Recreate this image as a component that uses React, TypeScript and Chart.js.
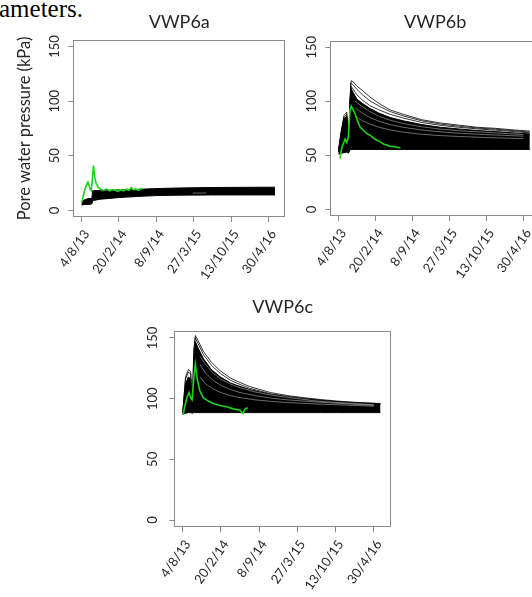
import React, { useEffect, useRef } from "react";
import { Chart, registerables } from "chart.js";

Chart.register(...registerables);

// ---------- axes ----------
const tickDays = [0, 200, 400, 600, 800, 1000];
const tickLabels = ["4/8/13", "20/2/14", "8/9/14", "27/3/15", "13/10/15", "30/4/16"];
const yTickValues = [0, 50, 100, 150];
const yAxisTitle = "Pore water pressure (kPa)";

// ---------- VWP6a ----------
const daysA = [0, 20, 40, 55, 60, 100, 150, 200, 300, 400, 525, 700, 900, 1035];
const aUpper = [8, 10, 11, 11, 18, 18.3, 18.5, 18.8, 19.3, 20, 20.6, 21, 21.2, 21.3];
const aLower = [5, 5.5, 5.5, 6, 9, 10.3, 11, 11.8, 12.8, 13.6, 14, 14.2, 14.2, 14.2];
const aStreakDays = [595, 667];
const aStreak = [15.9, 15.9];
const greenADays = [3, 10, 16, 25, 34, 40, 47, 52, 57, 64, 70, 78, 90, 105, 120, 135, 150, 165, 180, 195, 210, 225, 240, 255, 266, 275, 290, 305, 315, 325];
const greenAVals = [7.6, 14, 18, 23, 26, 23, 19, 18, 27, 41, 31, 25, 21, 19, 18.5, 19.5, 18, 19, 18.5, 17.5, 19, 18, 19.5, 18.5, 21, 19, 19.5, 18.5, 20, 19.5];

// ---------- VWP6b ----------
const daysB = [0, 15, 30, 45, 55, 62, 68, 80, 100, 130, 170, 220, 280, 350, 450, 550, 650, 750, 850, 950, 1035];
const b1 = [53, 72, 87, 90, 56, 100, 119, 118, 114, 110, 104, 98, 92, 88, 83, 80, 78, 76, 75, 73.5, 72.5];
const b2 = [53, 70, 85, 88, 55, 99, 117, 115, 111, 106, 100.5, 95.5, 90.5, 86.5, 82, 79, 77, 75.3, 74.2, 72.8, 71.5];
const b3 = [54, 68, 82, 85, 54, 97, 114, 111, 106, 101, 96, 92, 88, 84.5, 80.5, 77.8, 76, 74.5, 73.3, 72, 70.8];
const bTop = [55, 72, 84, 86, 53, 95, 112, 108, 102, 98, 93.5, 89, 85, 82, 78.5, 76, 74.5, 73, 72, 70.8, 69.8];
const bLow = [51, 52, 52.5, 53, 52, 55, 55.5, 55.5, 55.5, 55.5, 55.5, 55.5, 55.5, 55.5, 55.5, 55.5, 55.5, 55.5, 55.5, 55.5, 55.5];
const bStreakDays = [90, 130, 170, 220, 280, 350, 450, 550, 650, 800, 1000];
const bStreak1 = [100, 95, 90.5, 86, 82.5, 79.5, 76.5, 74.3, 72.8, 71.3, 69.3];
const bStreak2 = [94, 89, 85, 81.5, 78.5, 76, 73.5, 71.8, 70.5, 69.2, 67.8];
const bStreak3 = [86, 82, 79, 76, 73.5, 71.5, 69.5, 68.3, 67.5, 66.5, 65.5];
const greenBDays = [9, 18, 27, 36, 45, 54, 60, 63, 69, 80, 91, 105, 118, 136, 155, 172, 190, 208, 226, 244, 262, 280, 300, 317, 335];
const greenBVals = [47, 57, 61, 65, 62, 67, 85, 92, 95.5, 92, 88, 81, 76, 73, 70, 68.5, 66, 64, 62.5, 60.5, 59.5, 58.5, 58, 57.5, 57];

// ---------- VWP6c ----------
const daysC = [0, 15, 30, 42, 50, 58, 66, 80, 108, 150, 196, 250, 283, 350, 460, 550, 635, 720, 810, 900, 1035];
const c1 = [88, 118, 124, 122, 89, 140, 152, 148, 139, 130, 123, 117, 114.5, 110, 105, 102.5, 100.8, 99.3, 98, 97, 96];
const c2 = [88, 116, 122, 120, 89, 138, 150, 145.5, 136.5, 127.5, 120.8, 115.2, 112.8, 108.6, 104, 101.8, 100.2, 98.8, 97.6, 96.7, 95.8];
const cTop = [88, 112, 118, 116, 89, 133, 147, 142, 133, 124, 118, 113, 111, 107.5, 103.5, 101.3, 99.8, 98.5, 97.4, 96.5, 95.5];
const cLow = [87, 88, 88.5, 88.5, 88, 88.5, 88.5, 88.5, 88.5, 88.5, 88.5, 88.5, 88.5, 88.5, 88.5, 88.5, 88.5, 88.5, 88.5, 88.5, 88.5];
const cStreakDays = [90, 120, 160, 200, 250, 300, 380, 460, 550, 700, 850, 1000];
const cStreak1 = [135, 128, 121, 116, 112, 109, 105.5, 103, 101, 98, 96.4, 95];
const cStreak2 = [128, 121, 115, 111, 107.5, 105, 102.5, 100.5, 99, 97.2, 95.8, 94.6];
const cStreak3 = [118, 112, 108, 105, 102.5, 100.8, 99, 97.8, 96.8, 95.6, 94.7, 93.8];
const greenCDays = [3, 11, 24, 33, 42, 49, 59, 66, 76, 90, 108, 134, 160, 195, 230, 265, 300, 315, 327, 340];
const greenCVals = [87, 94, 102, 105, 100.5, 99, 118.7, 128.4, 116, 106.3, 100.8, 98, 96, 94.4, 93.4, 91.6, 90.5, 87.8, 91.5, 92.5];

// ---------- style ----------
const GREEN = "#1ed21e";
const AXIS_GRAY = "#8a8a8a";
const TEXT = "#262626";
const FONT = "Lato";

function pts(xs: number[], ys: number[]) {
  return ys.map((y, i) => ({ x: xs[i], y }));
}

interface PanelSpec {
  title: string;
  left: number;
  top: number;
  width: number;
  height: number;
  padTop: number;
  padRight: number;
  titleGap: number;
  yAxisW: number;
  xAxisH: number;
  yTickPad: number;
  yTitle: boolean;
  days: number[];
  lines: number[][];
  solidTop: number[];
  solidLow: number[];
  streakDays: number[];
  streaks: number[][];
  greenDays: number[];
  greenVals: number[];
}

const panels: PanelSpec[] = [
  {
    title: "VWP6a", left: 0, top: 0, width: 290, height: 287,
    padTop: 10.9, padRight: 4.7, titleGap: 7.5, yAxisW: 73.3, xAxisH: 70, yTickPad: 2, yTitle: true,
    days: daysA, lines: [], solidTop: aUpper, solidLow: aLower,
    streakDays: aStreakDays, streaks: [aStreak],
    greenDays: greenADays, greenVals: greenAVals,
  },
  {
    title: "VWP6b", left: 262, top: 0, width: 290, height: 287,
    padTop: 10.9, padRight: 12, titleGap: 8.2, yAxisW: 68.3, xAxisH: 71, yTickPad: 2, yTitle: false,
    days: daysB, lines: [b1, b2, b3], solidTop: bTop, solidLow: bLow,
    streakDays: bStreakDays, streaks: [bStreak1, bStreak2, bStreak3],
    greenDays: greenBDays, greenVals: greenBVals,
  },
  {
    title: "VWP6c", left: 140, top: 280, width: 260, height: 317,
    padTop: 16.7, padRight: 9, titleGap: 12.4, yAxisW: 34.3, xAxisH: 69.7, yTickPad: 5, yTitle: false,
    days: daysC, lines: [c1, c2], solidTop: cTop, solidLow: cLow,
    streakDays: cStreakDays, streaks: [cStreak1, cStreak2, cStreak3],
    greenDays: greenCDays, greenVals: greenCVals,
  },
];

const boxPlugin = {
  id: "rbox",
  afterDatasetsDraw(chart: any) {
    const { ctx, chartArea: a } = chart;
    const l = Math.round(a.left) + 0.5;
    const t = Math.round(a.top) + 0.5;
    const r = Math.round(a.right) - 0.5;
    const b = Math.round(a.bottom) - 0.5;
    ctx.save();
    ctx.strokeStyle = AXIS_GRAY;
    ctx.lineWidth = 1;
    ctx.strokeRect(l, t, r - l, b - t);
    ctx.restore();
  },
};

function Panel({ spec }: { spec: PanelSpec }) {
  const ref = useRef<HTMLCanvasElement>(null);
  useEffect(() => {
    const datasets: any[] = [];
    datasets.push({
      data: pts(spec.greenDays, spec.greenVals),
      borderColor: GREEN, borderWidth: 1.6, pointRadius: 0, fill: false, tension: 0,
    });
    spec.streaks.forEach((s) =>
      datasets.push({
        data: pts(spec.streakDays, s),
        borderColor: "rgba(255,255,255,0.6)", borderWidth: 0.7, pointRadius: 0, fill: false,
      })
    );
    spec.lines.forEach((l) =>
      datasets.push({
        data: pts(spec.days, l),
        borderColor: "#000000", borderWidth: 0.8, pointRadius: 0, fill: false,
      })
    );
    datasets.push({
      data: pts(spec.days, spec.solidTop),
      borderColor: "#000000", borderWidth: 1, backgroundColor: "#000000", pointRadius: 0, fill: "+1",
    });
    datasets.push({
      data: pts(spec.days, spec.solidLow),
      borderColor: "#000000", borderWidth: 1, pointRadius: 0, fill: false,
    });

    const chart = new Chart(ref.current as HTMLCanvasElement, {
      type: "line",
      data: { datasets },
      options: {
        animation: false,
        responsive: false,
        maintainAspectRatio: false,
        events: [],
        layout: { padding: { top: spec.padTop, right: spec.padRight, left: 0, bottom: 0 } },
        plugins: {
          legend: { display: false },
          tooltip: { enabled: false },
          title: {
            display: true,
            text: spec.title,
            fullSize: false,
            color: TEXT,
            font: { family: FONT, size: 18, weight: "normal" },
            padding: { top: 0, bottom: spec.titleGap },
          },
        },
        scales: {
          x: {
            type: "linear",
            min: -44,
            max: 1090,
            afterBuildTicks: (s: any) => {
              s.ticks = tickDays.map((v) => ({ value: v }));
            },
            afterFit: (s: any) => {
              s.height = spec.xAxisH;
            },
            ticks: {
              autoSkip: false,
              minRotation: 55,
              maxRotation: 55,
              padding: 5,
              labelOffset: 5,
              color: TEXT,
              font: { family: FONT, size: 13 },
              callback: (v: any) => tickLabels[tickDays.indexOf(Number(v))] ?? "",
            },
            grid: { drawOnChartArea: false, drawTicks: true, tickLength: 5, color: AXIS_GRAY },
            border: { display: false },
          },
          y: {
            type: "linear",
            min: -6,
            max: 156,
            afterBuildTicks: (s: any) => {
              s.ticks = yTickValues.map((v) => ({ value: v }));
            },
            afterFit: (s: any) => {
              s.width = spec.yAxisW;
            },
            ticks: {
              autoSkip: false,
              minRotation: 90,
              maxRotation: 90,
              crossAlign: "center",
              padding: spec.yTickPad,
              color: TEXT,
              font: { family: FONT, size: 13 },
              callback: (v: any) => String(v),
            },
            grid: { drawOnChartArea: false, drawTicks: true, tickLength: 5, color: AXIS_GRAY },
            border: { display: false },
            title: {
              display: spec.yTitle,
              text: yAxisTitle,
              color: TEXT,
              font: { family: FONT, size: 16.5 },
              padding: { top: 15, bottom: 0 },
            },
          },
        },
      } as any,
      plugins: [boxPlugin],
    });
    return () => chart.destroy();
  }, [spec]);
  return (
    <canvas
      ref={ref}
      width={spec.width}
      height={spec.height}
      style={{ position: "absolute", left: spec.left, top: spec.top, width: spec.width, height: spec.height }}
    />
  );
}

export default function App() {
  return (
    <div
      style={{
        position: "fixed",
        left: 0,
        top: 0,
        width: 532,
        height: 597,
        overflow: "hidden",
        background: "#ffffff",
      }}
    >
      <div
        style={{
          position: "absolute",
          left: -1,
          top: -4.2,
          fontFamily: "'Liberation Serif', serif",
          fontSize: 25,
          lineHeight: "25px",
          color: "#000",
          whiteSpace: "nowrap",
        }}
      >
        ameters.
      </div>
      {panels.map((p) => (
        <Panel key={p.title} spec={p} />
      ))}
    </div>
  );
}
